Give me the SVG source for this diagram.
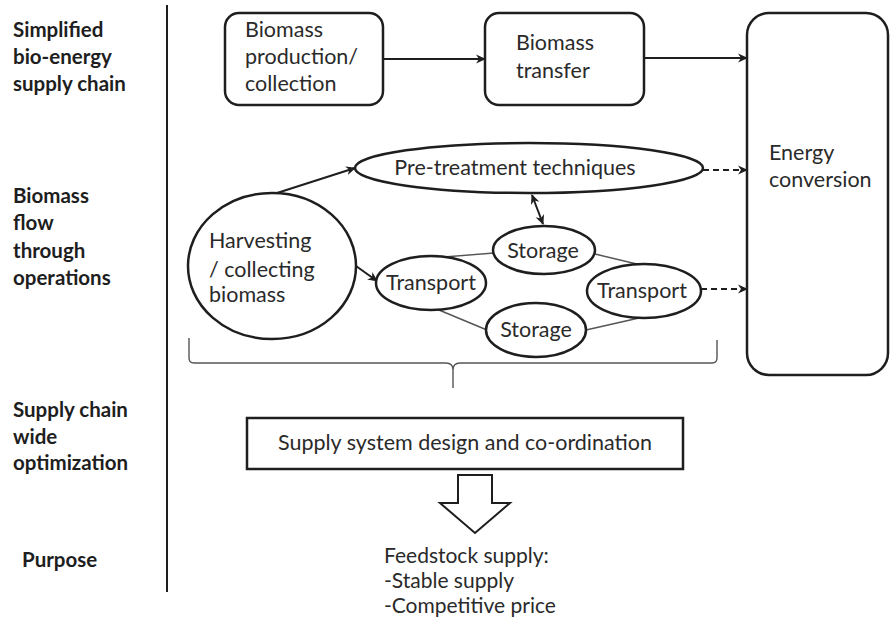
<svg xmlns="http://www.w3.org/2000/svg" width="891" height="623" viewBox="0 0 891 623">
<style>
.lbl{font-family:Lato,"Open Sans","Liberation Sans",sans-serif;font-weight:bold;font-size:20.5px;fill:#1e1e1e}
.t{font-family:Lato,"Open Sans","Liberation Sans",sans-serif;font-size:21.5px;fill:#2a2a2a}
.f{font-family:Lato,"Open Sans","Liberation Sans",sans-serif;font-size:21px;fill:#2a2a2a}
.c{text-anchor:middle}
.box{fill:#fff;stroke:#1e1e1e;stroke-width:2.5}
.ln{fill:none;stroke:#1e1e1e;stroke-width:2}
.thin{fill:none;stroke:#555;stroke-width:1.4}
.dash{fill:none;stroke:#1e1e1e;stroke-width:2;stroke-dasharray:6,4}
</style>
<defs>
<marker id="ah" viewBox="0 0 10 10" refX="9" refY="5" markerWidth="10" markerHeight="10" markerUnits="userSpaceOnUse" orient="auto-start-reverse">
<path d="M0,0.5 L10,5 L0,9.5 L3,5 z" fill="#1e1e1e"/>
</marker>
</defs>
<rect width="891" height="623" fill="#fff"/>

<g id="side-labels">
<text class="lbl" x="13" y="37">Simplified</text>
<text class="lbl" x="13" y="64">bio-energy</text>
<text class="lbl" x="13" y="91">supply chain</text>
<text class="lbl" x="13" y="203">Biomass</text>
<text class="lbl" x="13" y="230">flow</text>
<text class="lbl" x="13" y="258">through</text>
<text class="lbl" x="13" y="285">operations</text>
<text class="lbl" x="13" y="417">Supply chain</text>
<text class="lbl" x="13" y="444">wide</text>
<text class="lbl" x="13" y="470">optimization</text>
<text class="lbl" x="22" y="567">Purpose</text>
</g>
<line x1="167" y1="5" x2="167" y2="592" stroke="#1e1e1e" stroke-width="2"/>

<g id="connectors">
<line class="ln" x1="383" y1="59" x2="485" y2="59" marker-end="url(#ah)"/>
<line class="ln" x1="644" y1="58" x2="747" y2="58" marker-end="url(#ah)"/>
<line class="ln" x1="277" y1="193" x2="355" y2="168" marker-end="url(#ah)"/>
<line class="dash" x1="703" y1="170" x2="747" y2="170" marker-end="url(#ah)"/>
<line class="ln" x1="532" y1="195" x2="543" y2="224" marker-start="url(#ah)" marker-end="url(#ah)"/>
<line class="ln" x1="356" y1="266" x2="377" y2="281" marker-end="url(#ah)"/>
<line class="dash" x1="701" y1="289" x2="747" y2="289" marker-end="url(#ah)"/>
<line class="thin" x1="444" y1="257" x2="494" y2="253"/>
<line class="thin" x1="595" y1="254" x2="641" y2="265"/>
<line class="thin" x1="439" y1="310" x2="487" y2="330"/>
<line class="thin" x1="586" y1="330" x2="639" y2="318"/>
<path class="thin" d="M189,338 L189,358 Q189,363 194,363 L446,363 Q453,363 453,370 L453,388 M453,370 Q453,363 460,363 L712,363 Q717,363 717,358 L717,340"/>
</g>

<g id="biomass-production">
<rect class="box" x="225" y="13" width="158" height="92" rx="14"/>
<text class="t" x="245" y="37">Biomass</text>
<text class="t" x="245" y="64">production/</text>
<text class="t" x="245" y="91">collection</text>
</g>

<g id="biomass-transfer">
<rect class="box" x="485" y="13" width="159" height="92" rx="14"/>
<text class="t" x="516" y="50">Biomass</text>
<text class="t" x="516" y="78">transfer</text>
</g>

<g id="energy-conversion">
<rect class="box" x="747" y="13" width="141" height="362" rx="22"/>
<text class="t" x="769" y="160">Energy</text>
<text class="t" x="769" y="187">conversion</text>
</g>

<g id="pre-treatment">
<ellipse class="box" cx="529" cy="168" rx="174" ry="25"/>
<text class="t c" x="515" y="175">Pre-treatment techniques</text>
</g>

<g id="harvesting">
<ellipse class="box" cx="272" cy="266" rx="84" ry="73"/>
<text class="t" x="209" y="248">Harvesting</text>
<text class="t" x="209" y="277">/ collecting</text>
<text class="t" x="209" y="302">biomass</text>
</g>

<g id="storage-top">
<ellipse class="box" cx="544" cy="250" rx="51" ry="24"/>
<text class="t c" x="543" y="258">Storage</text>
</g>

<g id="transport-left">
<ellipse class="box" cx="431" cy="283" rx="55" ry="27"/>
<text class="t c" x="431" y="290">Transport</text>
</g>

<g id="transport-right">
<ellipse class="box" cx="644" cy="291" rx="57" ry="27"/>
<text class="t c" x="642" y="298">Transport</text>
</g>

<g id="storage-bottom">
<ellipse class="box" cx="536" cy="330" rx="50" ry="27"/>
<text class="t c" x="536" y="337">Storage</text>
</g>

<g id="supply-system">
<rect class="box" x="247" y="418" width="436" height="51"/>
<text class="t c" x="465" y="450">Supply system design and co-ordination</text>
</g>

<g id="down-arrow">
<polygon points="458,475 492,475 492,503 510,503 475,533 440,503 458,503" fill="#fff" stroke="#1e1e1e" stroke-width="2"/>
</g>

<g id="purpose">
<text class="f" x="384" y="562.5">Feedstock supply:</text>
<text class="f" x="384" y="587.8">-Stable supply</text>
<text class="f" x="384" y="613">-Competitive price</text>
</g>
</svg>
